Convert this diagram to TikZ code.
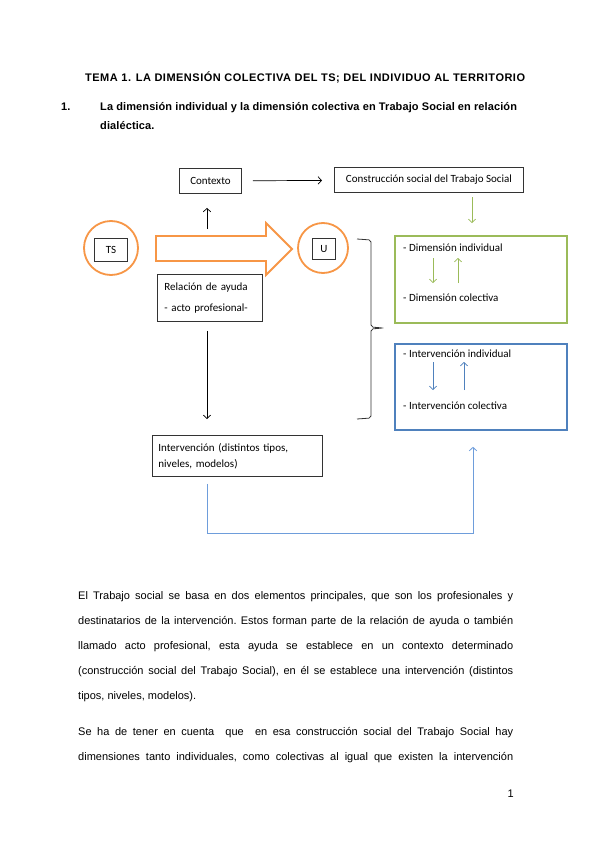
\documentclass[tikz,border=0pt]{standalone}
\usepackage{fontspec}
\setmainfont{Liberation Sans}
\newfontfamily\boxfont{Carlito}
\newfontfamily\temafont[LetterSpace=4.5]{Liberation Sans}
\newfontfamily\titfont[LetterSpace=1]{Liberation Sans}
\usetikzlibrary{arrows.meta,positioning}
\definecolor{tsorange}{HTML}{F79646}
\definecolor{tsgreen}{HTML}{9BBB59}
\definecolor{tsblue}{HTML}{4F81BD}
\definecolor{tslightblue}{HTML}{6E9DDB}
\tikzset
{
    heading/.style  = {font=\titfont\bfseries\fontsize{11}{12}\selectfont, inner sep=0pt, anchor=base west},
    bodytext/.style = {font=\fontsize{11}{25}\selectfont, inner sep=0pt, anchor=base west, text width=435pt, align=justify},
    textbox/.style  = {rectangle, draw=black!80, line width=0.9pt, font=\boxfont\fontsize{11}{12}\selectfont, inner sep=0pt, anchor=north west},
    boxtext/.style  = {font=\boxfont\fontsize{11}{12}\selectfont, inner sep=0pt, anchor=base west},
    ring/.style     = {circle, draw=tsorange, line width=1.8pt, inner sep=0pt},
    colbox/.style   = {rectangle, line width=1.8pt, anchor=north west, inner sep=0pt, minimum width=172pt},
    arrow/.style    = {-{Straight Barb[length=3.5pt, width=7.5pt]}, line width=0.7pt},
    bigarrow/.style = {draw=tsorange, line width=1.8pt, line join=miter}
}

\begin{document}
\begin{tikzpicture}[x=1pt, y=-1pt]
	 \useasboundingbox[fill=white] (0,0) rectangle (599,848);

	 % headings
	 \node (tema) [heading, font=\temafont\bfseries\fontsize{11}{12}\selectfont] at (85,82) {TEMA 1. LA DIMENSIÓN COLECTIVA DEL TS; DEL INDIVIDUO AL TERRITORIO};
	 \node (num)  [heading] at (61,111) {1.};
	 \node (tit)  [heading] at (100,111) {La dimensión individual y la dimensión colectiva en Trabajo Social en relación};
	 \node (tit2) [heading] at (100,130) {dialéctica.};

	 % top row
	 \node (ctx)  [textbox, minimum width=62pt, minimum height=25pt]  at (179,168) {Contexto};
	 \node (csts) [textbox, minimum width=189pt, minimum height=25pt] at (334,167) {Construcción social del Trabajo Social};

	 % professional and user
	 \node (tsring) [ring, minimum size=54pt] at (111,248) {};
	 \node (ts)     [textbox, minimum width=33pt, minimum height=23pt] at (94,238) {TS};
	 \node (uring)  [ring, minimum size=50pt] at (323,248) {};
	 \node (u)      [textbox, minimum width=23pt, minimum height=21pt] at (312,238) {U};
	 \draw[bigarrow] (156,236) -- (266,236) -- (266,223) -- (292,249) -- (266,275) -- (266,261) -- (156,261) -- cycle;
	 \coordinate (ra) at (207,236);

	 \node (rel) [textbox, minimum width=105pt, minimum height=47pt, align=left, text width=91pt, inner xsep=7pt]
	      at (157,274) {\mbox{Relación de ayuda}\\[9pt]\mbox{- acto profesional-}};
	 \node (int) [textbox, minimum width=170pt, minimum height=41pt, align=left, text width=158pt, inner xsep=6pt, font=\boxfont\fontsize{11}{16}\selectfont]
	      at (152,435) {\mbox{Intervención (distintos tipos,}\\\mbox{niveles, modelos)}};

	 % dimensions
	 \node (dim) [colbox, draw=tsgreen, minimum height=87pt] at (394,235) {};
	 \node (dimi) [boxtext] at (403,251) {- Dimensión individual};
	 \node (dimc) [boxtext] at (403,301) {- Dimensión colectiva};
	 \node (itv) [colbox, draw=tsblue, minimum height=86pt] at (394,343) {};
	 \node (itvi) [boxtext] at (403,357) {- Intervención individual};
	 \node (itvc) [boxtext] at (403,409) {- Intervención colectiva};

	 % brace
	 \draw[line width=0.8pt, black!80, rounded corners=2pt]
	      (357,239) -- (371,240) -- (371,327) -- (383,328) -- (371,329) -- (371,418) -- (357,419);

	 \path[arrow]
	      (ctx)             edge[shorten <=11pt, shorten >=12pt]  node {} (csts)
	      (ra)              edge[shorten <=7pt, shorten >=14pt]   node {} (ra |- ctx.south)
	      (rel.south -| ra) edge[shorten <=9pt, shorten >=16pt]   node {} (int.north -| ra);
	 \coordinate (g1) at (472,192);
	 \draw[arrow, tsgreen, shorten <=5pt, shorten >=12pt] (g1) -- (g1 |- dim.north);
	 \coordinate (gd) at (433,258);
	 \coordinate (gu) at (458,283);
	 \draw[arrow, tsgreen] (gd) -- (gd |- gu);
	 \draw[arrow, tsgreen] (gu) -- (gu |- gd);
	 \coordinate (bd) at (433,362);
	 \coordinate (bu) at (464,390);
	 \draw[arrow, tsblue] (bd) -- (bd |- bu);
	 \draw[arrow, tsblue] (bu) -- (bu |- bd);
	 \coordinate (fb) at (207,533);
	 \draw[arrow, tslightblue, line width=0.8pt, shorten <=7pt, shorten >=16pt] (int.south -| ra) -- (fb) -- (fb -| 473,0) -- (473,0 |- itv.south);

	 % body text
	 \node (par1) [bodytext] at (78,599) {\frenchspacing El Trabajo social se basa en dos elementos principales, que son los profesionales y\linebreak destinatarios de la intervención. Estos forman parte de la relación de ayuda o también\linebreak llamado acto profesional, esta ayuda se establece en un contexto determinado\linebreak (construcción social del Trabajo Social), en él se establece una intervención (distintos\linebreak tipos, niveles, modelos).};
	 \node (par2) [bodytext] at (78,735) {\frenchspacing Se ha de tener en cuenta\ \ que\ \ en esa construcción social del Trabajo Social hay\linebreak \hbox to \linewidth{dimensiones tanto individuales, como colectivas al igual que existen la intervención}};
	 \node (page) [font=\fontsize{11}{12}\selectfont, inner sep=0pt, anchor=base east] at (514,797) {1};
\end{tikzpicture}
\end{document}
